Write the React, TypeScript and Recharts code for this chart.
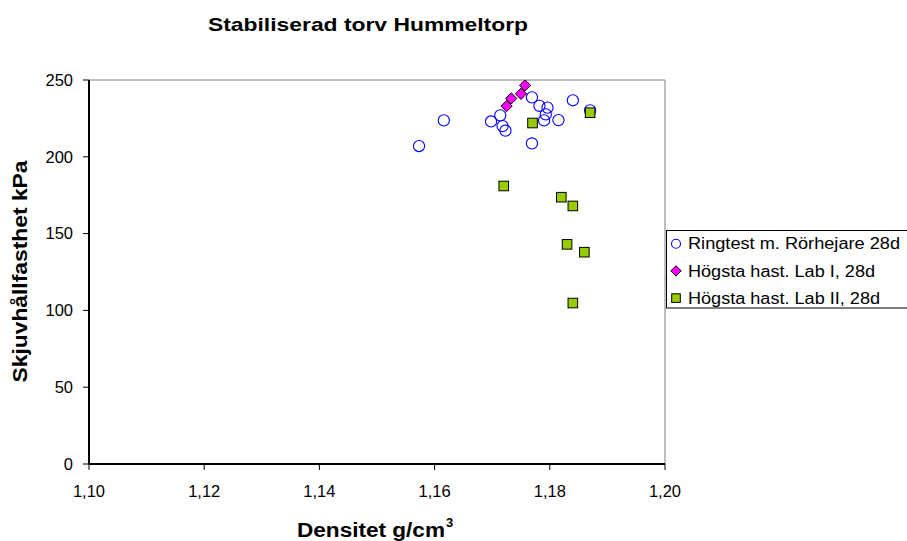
import React from 'react';
import { ScatterChart, Scatter, XAxis, YAxis, ReferenceArea } from 'recharts';

const FONT = "'Liberation Sans', Arial, Helvetica, sans-serif";

const titleText = 'Stabiliserad torv Hummeltorp';
const xAxisTitle = 'Densitet g/cm';
const xAxisTitleSup = '3';
const yAxisTitle = 'Skjuvhållfasthet kPa';

const seriesNames = ['Ringtest m. Rörhejare 28d', 'Högsta hast. Lab I, 28d', 'Högsta hast. Lab II, 28d'];

const xTicks = [1.1, 1.12, 1.14, 1.16, 1.18, 1.2];
const yTicks = [0, 50, 100, 150, 200, 250];

const ringX = [1.1573, 1.1616, 1.1698, 1.1714, 1.1718, 1.1723, 1.1769, 1.1769, 1.1782, 1.1796, 1.1793, 1.179, 1.1815, 1.184, 1.187];
const ringY = [207, 223.7, 223, 227, 220, 217, 238.7, 208.7, 233.2, 232, 227.6, 223.7, 223.9, 236.8, 230.2];

const lab1X = [1.1725, 1.1733, 1.175, 1.1757];
const lab1Y = [233, 238, 241, 246.5];

const lab2X = [1.177, 1.187, 1.172, 1.182, 1.184, 1.183, 1.186, 1.184];
const lab2Y = [222, 228.7, 181, 173.7, 168, 143, 137.9, 104.8];

const toPoints = (xs: number[], ys: number[]) => xs.map((x, i) => ({ x, y: ys[i] }));

const ringData = toPoints(ringX, ringY);
const lab1Data = toPoints(lab1X, lab1Y);
const lab2Data = toPoints(lab2X, lab2Y);

const BLUE = '#0000FF';
const MAGENTA = '#FF00FF';
const GREEN = '#99CC00';

const CircleShape = (props: any) => {
  const { cx, cy } = props;
  return <circle cx={cx} cy={cy} r={5.6} fill="none" stroke={BLUE} strokeWidth={1.1} />;
};

const DiamondShape = (props: any) => {
  const { cx, cy } = props;
  const h = 5.6;
  return (
    <path
      d={`M${cx},${cy - h} L${cx + h},${cy} L${cx},${cy + h} L${cx - h},${cy} Z`}
      fill={MAGENTA}
      stroke="#000"
      strokeWidth={1}
    />
  );
};

const SquareShape = (props: any) => {
  const { cx, cy } = props;
  const h = 4.8;
  return <rect x={cx - h} y={cy - h} width={2 * h} height={2 * h} fill={GREEN} stroke="#000" strokeWidth={1} />;
};

const XTick = (props: any) => {
  const { x, y, payload } = props;
  return (
    <text x={x} y={y} dy="0.71em" textAnchor="middle" fontSize={16.5} fontFamily={FONT} fill="#000">
      {Number(payload.value).toFixed(2).replace('.', ',')}
    </text>
  );
};

const YTick = (props: any) => {
  const { x, y, payload } = props;
  return (
    <text x={x} y={y} dy="0.355em" textAnchor="end" fontSize={16.5} fontFamily={FONT} fill="#000">
      {payload.value}
    </text>
  );
};

const legendRows = [
  { name: seriesNames[0], kind: 'circle', len: 212 },
  { name: seriesNames[1], kind: 'diamond', len: 187 },
  { name: seriesNames[2], kind: 'square', len: 192 },
];

const LegendIcon = ({ kind, cx, cy }: { kind: string; cx: number; cy: number }) => {
  if (kind === 'circle') return <circle cx={cx} cy={cy} r={4.5} fill="none" stroke={BLUE} strokeWidth={1.1} />;
  if (kind === 'diamond') {
    const h = 5.2;
    return (
      <path d={`M${cx},${cy - h} L${cx + h},${cy} L${cx},${cy + h} L${cx - h},${cy} Z`} fill={MAGENTA} stroke="#000" strokeWidth={1} />
    );
  }
  return <rect x={cx - 4.3} y={cy - 4.3} width={8.6} height={8.6} fill={GREEN} stroke="#000" strokeWidth={1} />;
};

export default function App() {
  return (
    <div
      style={{
        position: 'absolute',
        left: 0,
        top: 0,
        width: 907,
        height: 541,
        overflow: 'hidden',
        background: '#fff',
      }}
    >
      <ScatterChart width={907} height={541} margin={{ top: 80, right: 242, left: 0, bottom: 0 }}>
        <ReferenceArea x1={1.1} x2={1.2} y1={0} y2={250} fill="none" stroke="#808080" strokeWidth={1} ifOverflow="visible" />
        <XAxis
          type="number"
          dataKey="x"
          domain={[1.1, 1.2]}
          ticks={xTicks}
          height={77}
          tickSize={6}
          tickMargin={15}
          tick={<XTick />}
          axisLine={{ stroke: '#000', strokeWidth: 2 }}
          tickLine={{ stroke: '#000', strokeWidth: 1 }}
          allowDataOverflow
        />
        <YAxis
          type="number"
          dataKey="y"
          domain={[0, 250]}
          ticks={yTicks}
          width={89}
          tickSize={6}
          tickMargin={10}
          tick={<YTick />}
          axisLine={{ stroke: '#000', strokeWidth: 2 }}
          tickLine={{ stroke: '#000', strokeWidth: 1 }}
          allowDataOverflow
        />
        <Scatter name={seriesNames[0]} data={ringData} shape={<CircleShape />} isAnimationActive={false} />
        <Scatter name={seriesNames[1]} data={lab1Data} shape={<DiamondShape />} isAnimationActive={false} />
        <Scatter name={seriesNames[2]} data={lab2Data} shape={<SquareShape />} isAnimationActive={false} />
      </ScatterChart>
      <svg
        width={907}
        height={541}
        style={{ position: 'absolute', left: 0, top: 0, pointerEvents: 'none' }}
      >
        <text x={368} y={31} textAnchor="middle" fontSize={19} fontWeight="bold" fontFamily={FONT} fill="#000" textLength={320} lengthAdjust="spacingAndGlyphs">
          {titleText}
        </text>
        <text
          x={0}
          y={0}
          transform="translate(27,271.5) rotate(-90)"
          textAnchor="middle"
          fontSize={20.5}
          fontWeight="bold"
          fontFamily={FONT}
          fill="#000"
          textLength={222}
          lengthAdjust="spacingAndGlyphs"
        >
          {yAxisTitle}
        </text>
        <text x={297} y={536.5} fontSize={20} fontWeight="bold" fontFamily={FONT} fill="#000" textLength={148} lengthAdjust="spacingAndGlyphs">
          {xAxisTitle}
        </text>
        <text x={446} y={527} fontSize={13} fontWeight="bold" fontFamily={FONT} fill="#000">
          {xAxisTitleSup}
        </text>
        <rect x={666.5} y={230.5} width={260} height={77.5} fill="#fff" stroke="#000" strokeWidth={1} />
        {legendRows.map((r, i) => {
          const cy = 243.7 + i * 27.2;
          return (
            <g key={r.name}>
              <LegendIcon kind={r.kind} cx={676} cy={cy} />
              <text x={688} y={cy} dy="0.36em" fontSize={16} fontFamily={FONT} fill="#000" textLength={r.len} lengthAdjust="spacingAndGlyphs">
                {r.name}
              </text>
            </g>
          );
        })}
      </svg>
    </div>
  );
}
